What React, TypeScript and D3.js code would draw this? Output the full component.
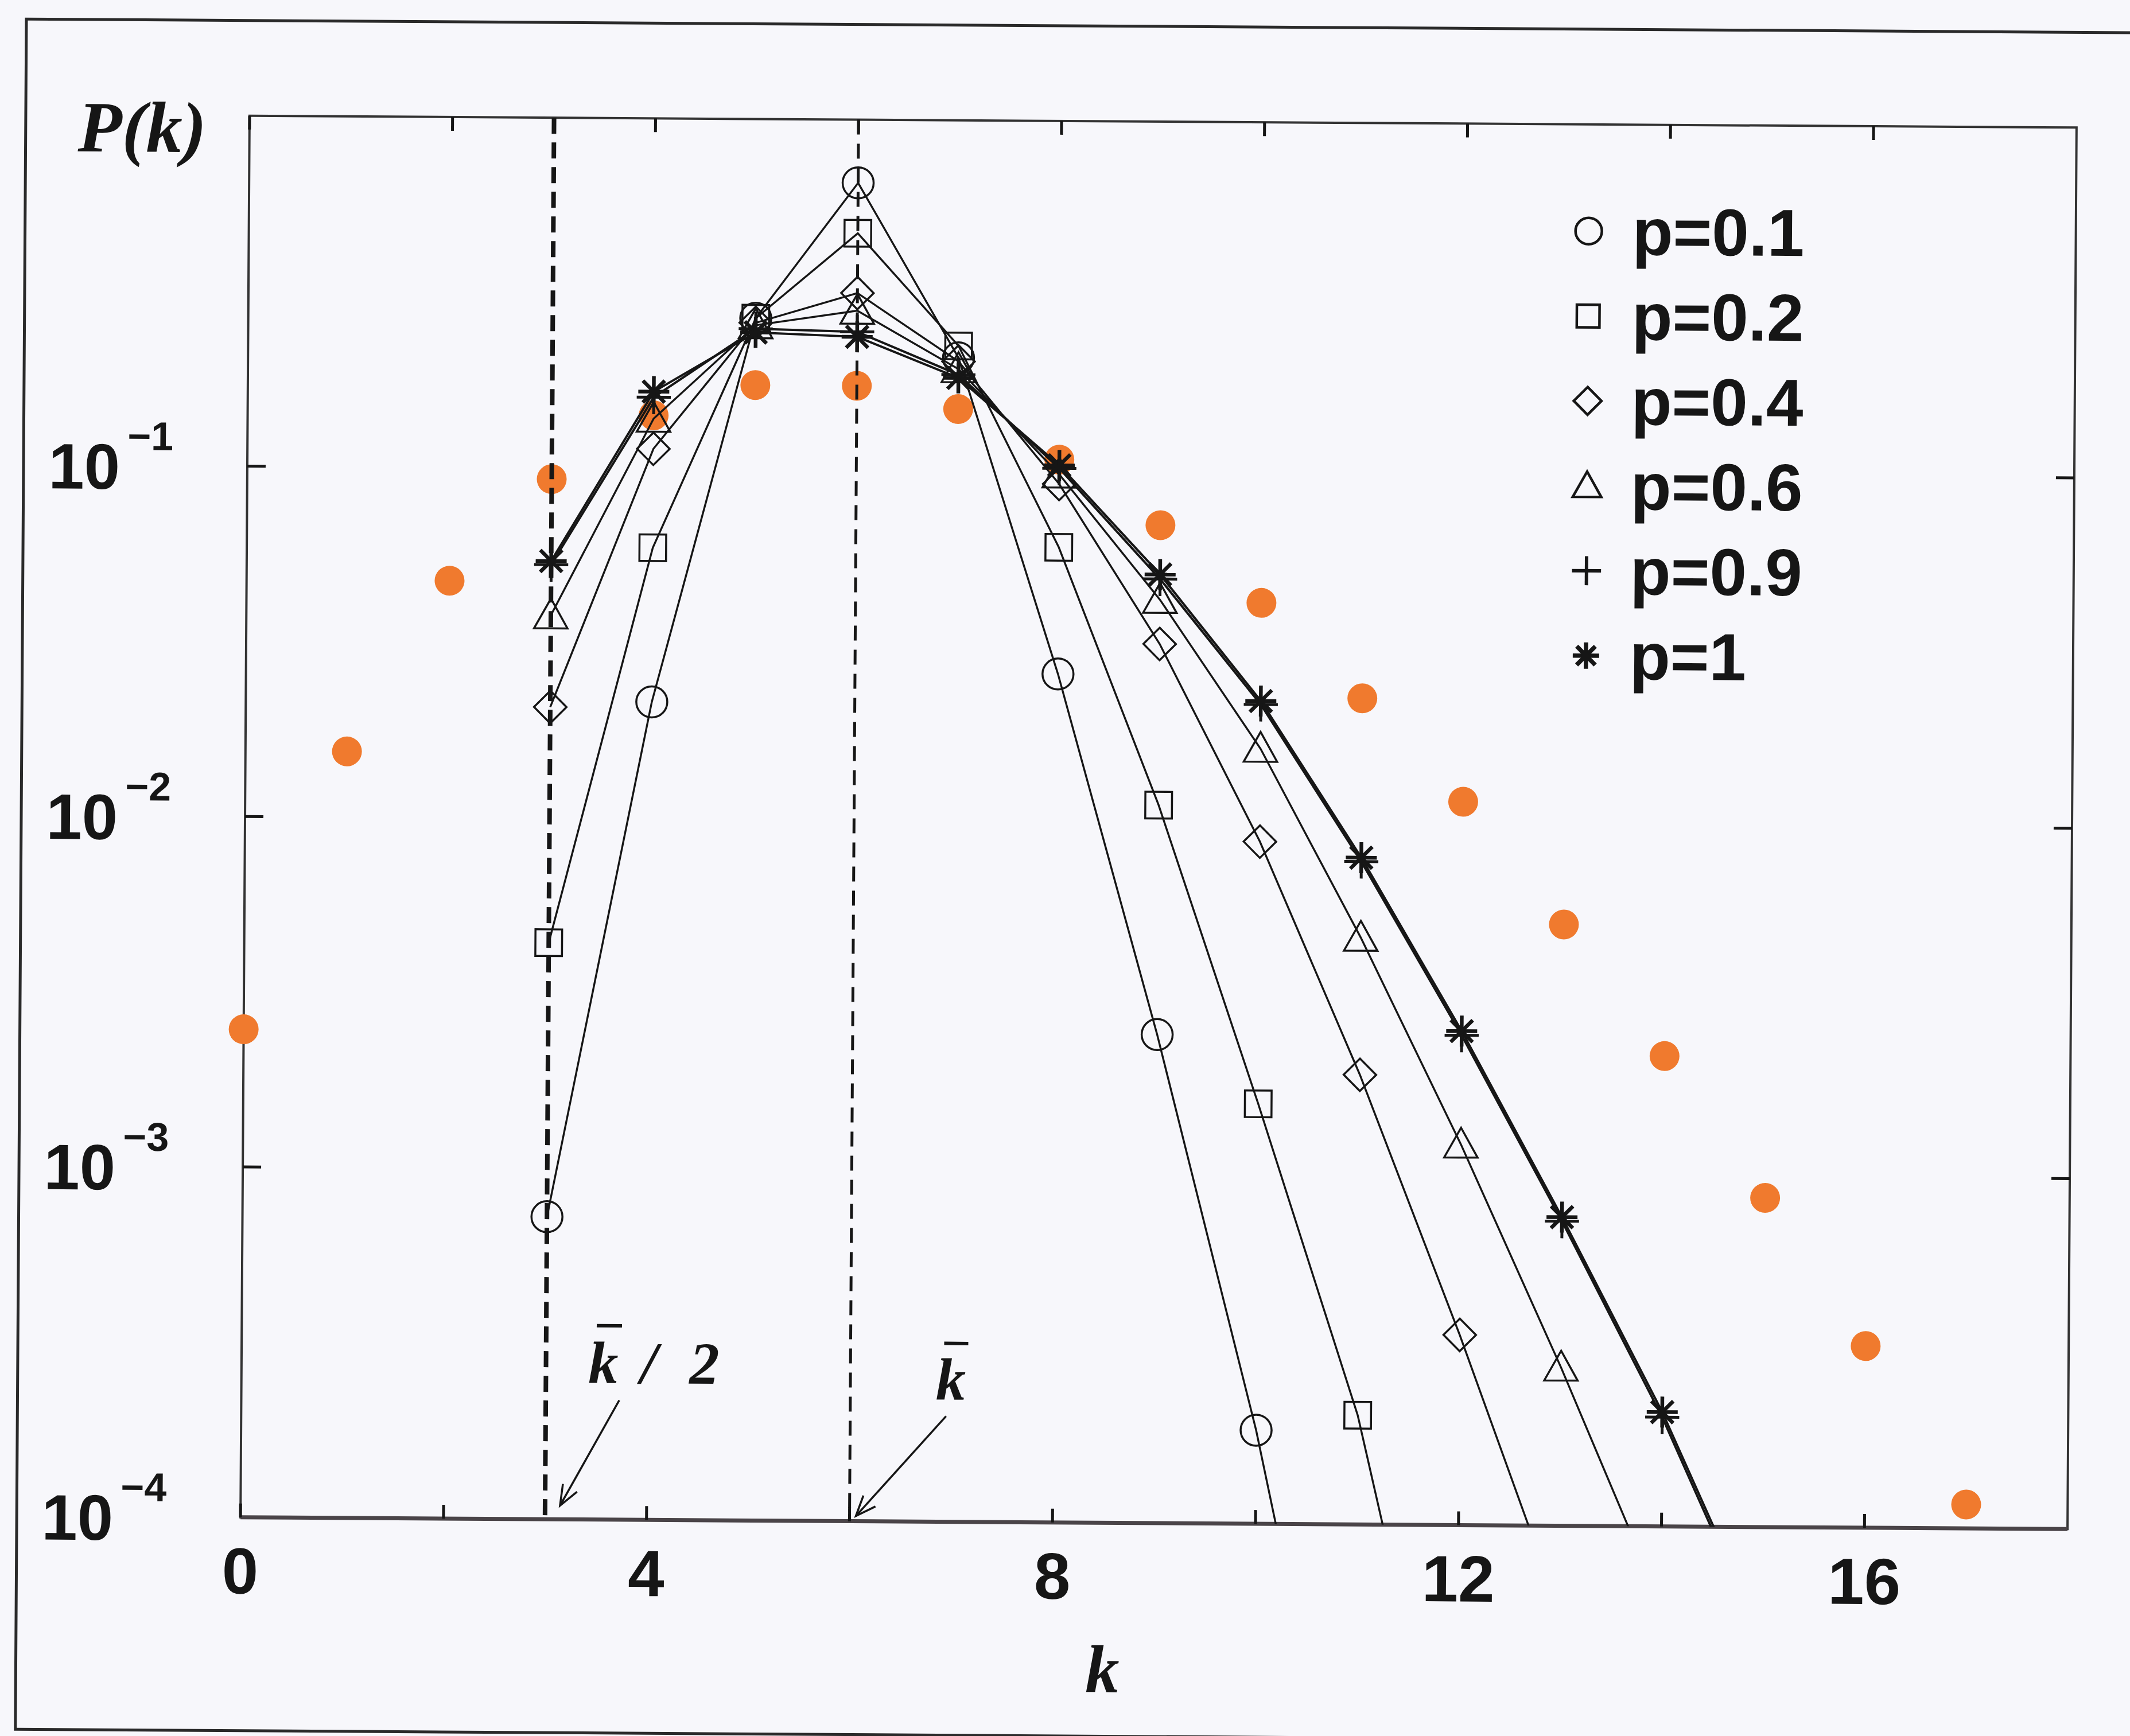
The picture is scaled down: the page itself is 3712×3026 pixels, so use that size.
import React from "react";
import * as d3 from "d3";

const W = 3712;
const H = 3026;

// orange reference points (random graph), k = 0..17
const kRandom = [0, 1, 2, 3, 4, 5, 6, 7, 8, 9, 10, 11, 12, 13, 14, 15, 16, 17];
const pRandom = [
  0.00247, 0.0154, 0.0475, 0.093, 0.142, 0.174, 0.174, 0.15, 0.108, 0.0705,
  0.0425, 0.0228, 0.0116, 0.0052, 0.0022, 0.00087, 0.00033, 0.000117,
];

// rewired lattice series, k starts at 3
const kSmall = [3, 4, 5, 6, 7, 8, 9, 10, 11, 12, 13, 14, 15];
const p01 = [7.3e-4, 0.0216, 0.27, 0.66, 0.21, 0.0264, 0.00248, 1.85e-4, 8.5e-6];
const p02 = [0.00442, 0.0595, 0.27, 0.474, 0.227, 0.0607, 0.0112, 0.00158, 2.05e-4, 1.2e-5];
const p04 = [0.0208, 0.114, 0.262, 0.32, 0.205, 0.092, 0.0323, 0.00885, 0.00192, 3.49e-4, 5.7e-5];
const p06 = [0.038, 0.139, 0.258, 0.285, 0.195, 0.098, 0.0432, 0.0163, 0.00473, 0.00122, 2.83e-4, 6.0e-5];
const p09 = [0.053, 0.16, 0.252, 0.248, 0.188, 0.102, 0.0495, 0.0218, 0.0078, 0.0025, 7.4e-4, 2.05e-4, 4.7e-5];
const p10 = [0.0543, 0.166, 0.246, 0.24, 0.184, 0.104, 0.051, 0.0223, 0.008, 0.00257, 7.6e-4, 2.12e-4, 4.9e-5];

const seriesNames = ["p=0.1", "p=0.2", "p=0.4", "p=0.6", "p=0.9", "p=1"];
const seriesMarkers = ["circle", "square", "diamond", "triangle", "plus", "asterisk"];
const seriesValues = [p01, p02, p04, p06, p09, p10];

const xTicks = [0, 2, 4, 6, 8, 10, 12, 14, 16];
const xTickLabels = [0, 4, 8, 12, 16];
const yTicks = [1e-1, 1e-2, 1e-3];
const yTickExponents = [-1, -2, -3, -4];
const guideK = [3, 6]; // k̄/2 and k̄

const ORANGE = "#f07a2e";
const INK = "#161616";
const SANS = "'Liberation Sans', Arial, sans-serif";
const SERIF = "'Liberation Serif', 'Times New Roman', serif";

// plot frame
const left = 427, right = 3611, top = 212, bottom = 2655;
const xScale = d3.scaleLinear().domain([0, 18]).range([left, right]);
const yScale = d3.scaleLog().domain([1e-4, 1]).range([bottom, top]);

function Marker({ type, x, y, r = 27, sw = 3.5 }: { type: string; x: number; y: number; r?: number; sw?: number }) {
  const common = { fill: "none", stroke: INK, strokeWidth: sw };
  if (type === "circle") return <circle cx={x} cy={y} r={r} {...common} />;
  if (type === "square") {
    const h = r * 0.86;
    return <rect x={x - h} y={y - h} width={2 * h} height={2 * h} {...common} />;
  }
  if (type === "diamond") {
    const h = r * 1.05;
    return <path d={`M${x},${y - h}L${x + h},${y}L${x},${y + h}L${x - h},${y}Z`} {...common} />;
  }
  if (type === "triangle") {
    const h = r * 1.08;
    return <path d={`M${x},${y - h}L${x + h},${y + h * 0.78}L${x - h},${y + h * 0.78}Z`} {...common} />;
  }
  if (type === "plus") {
    const h = r * 1.1;
    return (
      <g stroke={INK} strokeWidth={sw + 1.5}>
        <line x1={x - h} y1={y} x2={x + h} y2={y} />
        <line x1={x} y1={y - h} x2={x} y2={y + h} />
      </g>
    );
  }
  // asterisk
  const h = r;
  return (
    <g stroke={INK} strokeWidth={sw + 3}>
      {[0, 45, 90, 135].map((a) => {
        const dx = h * Math.cos((a * Math.PI) / 180);
        const dy = h * Math.sin((a * Math.PI) / 180);
        return <line key={a} x1={x - dx} y1={y - dy} x2={x + dx} y2={y + dy} />;
      })}
    </g>
  );
}

function Arrow({ x1, y1, x2, y2 }: { x1: number; y1: number; x2: number; y2: number }) {
  const a = Math.atan2(y2 - y1, x2 - x1);
  const len = 38, spread = 0.38;
  const h1 = [x2 - len * Math.cos(a - spread), y2 - len * Math.sin(a - spread)];
  const h2 = [x2 - len * Math.cos(a + spread), y2 - len * Math.sin(a + spread)];
  return (
    <g stroke={INK} strokeWidth={3.5} fill="none">
      <line x1={x1} y1={y1} x2={x2} y2={y2} />
      <path d={`M${h1[0]},${h1[1]}L${x2},${y2}L${h2[0]},${h2[1]}`} />
    </g>
  );
}

export default function App() {
  const line = d3
    .line<number>()
    .x((_, i) => xScale(kSmall[i]))
    .y((d) => yScale(d));

  const x3 = xScale(guideK[0]);
  const x6 = xScale(guideK[1]);

  return (
    <svg
      width={W}
      height={H}
      viewBox={`0 0 ${W} ${H}`}
      style={{ position: "absolute", left: 0, top: 0, display: "block" }}
    >
      <rect x={0} y={0} width={W} height={H} fill="#f7f7fb" />
      <defs>
        <clipPath id="plot-clip">
          <rect x={left} y={top} width={right - left} height={bottom - top} />
        </clipPath>
      </defs>

      {/* the scanned figure sits slightly rotated */}
      <g transform={`rotate(0.37, ${(left + right) / 2}, ${(top + bottom) / 2})`}>
        {/* outer frame */}
        <rect x={37} y={46} width={3760} height={2981} fill="none" stroke="#2a2a2a" strokeWidth={5} />

        {/* plot box */}
        <rect x={left} y={top} width={right - left} height={bottom - top} fill="none" stroke="#333" strokeWidth={4} />
        <line x1={left} y1={bottom} x2={right} y2={bottom} stroke="#4a4448" strokeWidth={7} />

        {/* ticks */}
        {xTicks.map((t) => (
          <g key={`xt${t}`} stroke={INK} strokeWidth={5}>
            <line x1={xScale(t)} y1={bottom} x2={xScale(t)} y2={bottom - 24} />
            <line x1={xScale(t)} y1={top} x2={xScale(t)} y2={top + 24} />
          </g>
        ))}
        {yTicks.map((t) => (
          <g key={`yt${t}`} stroke={INK} strokeWidth={5}>
            <line x1={left} y1={yScale(t)} x2={left + 32} y2={yScale(t)} />
            <line x1={right} y1={yScale(t)} x2={right - 32} y2={yScale(t)} />
          </g>
        ))}

        {/* tick labels */}
        {xTickLabels.map((t) => (
          <text
            key={`xl${t}`}
            x={xScale(t)}
            y={bottom + 133}
            textAnchor="middle"
            fontFamily={SANS}
            fontWeight="bold"
            fontSize={114}
            fill={INK}
          >
            {t}
          </text>
        ))}
        {yTickExponents.map((e) => {
          const y = yScale(Math.pow(10, e));
          return (
            <g key={`yl${e}`} fontFamily={SANS} fontWeight="bold" fill={INK}>
              <text x={205} y={y + 41} textAnchor="end" fontSize={112}>
                10
              </text>
              <text x={218} y={y - 27} fontSize={70}>
                {"\u2212" + Math.abs(e)}
              </text>
            </g>
          );
        })}

        {/* axis titles */}
        <text x={128} y={276} fontFamily={SERIF} fontStyle="italic" fontWeight="bold" fontSize={126} fill={INK}>
          P(k)
        </text>
        <text
          x={xScale(8.5)}
          y={2950}
          textAnchor="middle"
          fontFamily={SERIF}
          fontStyle="italic"
          fontWeight="bold"
          fontSize={118}
          fill={INK}
        >
          k
        </text>

        {/* random-graph reference points */}
        {kRandom.map((k, i) => (
          <circle key={`o${k}`} cx={xScale(k)} cy={yScale(pRandom[i])} r={26} fill={ORANGE} />
        ))}

        {/* k̄/2 and k̄ guides */}
        <line x1={x3} y1={top} x2={x3} y2={bottom} stroke={INK} strokeWidth={8} strokeDasharray="28 15" />
        <line x1={x6} y1={top} x2={x6} y2={bottom} stroke={INK} strokeWidth={5} strokeDasharray="26 16" />

        {/* series lines */}
        <g clipPath="url(#plot-clip)">
          {seriesValues.map((vals, si) => (
            <path
              key={`l${si}`}
              d={line(vals) || ""}
              fill="none"
              stroke={INK}
              strokeWidth={si >= 4 ? 4 : 3.4}
            />
          ))}
        </g>

        {/* series markers */}
        {seriesValues.map((vals, si) =>
          vals.map((v, i) =>
            v >= 1e-4 ? (
              <Marker key={`m${si}-${i}`} type={seriesMarkers[si]} x={xScale(kSmall[i])} y={yScale(v)} />
            ) : null
          )
        )}

        {/* legend */}
        {seriesNames.map((name, i) => {
          const y = 398 + i * 148;
          return (
            <g key={`lg${i}`}>
              <Marker type={seriesMarkers[i]} x={2762} y={y} r={23} sw={4.5} />
              <text x={2838} y={y + 41} fontFamily={SANS} fontWeight="bold" fontSize={116} fill={INK}>
                {name}
              </text>
            </g>
          );
        })}

        {/* annotations */}
        <g fontFamily={SERIF} fontStyle="italic" fontWeight="bold" fontSize={104} fill={INK}>
          <text x={x3 + 74} y={bottom - 238}>k</text>
          <text x={x3 + 165} y={bottom - 238}>/</text>
          <text x={x3 + 250} y={bottom - 238}>2</text>
          <text x={x6 + 149} y={bottom - 213}>k</text>
        </g>
        <line x1={x3 + 88} y1={bottom - 338} x2={x3 + 132} y2={bottom - 338} stroke={INK} strokeWidth={6} />
        <line x1={x6 + 163} y1={bottom - 311} x2={x6 + 205} y2={bottom - 311} stroke={INK} strokeWidth={6} />
        <Arrow x1={x3 + 128} y1={bottom - 208} x2={x3 + 26} y2={bottom - 24} />
        <Arrow x1={x6 + 167} y1={bottom - 184} x2={x6 + 11} y2={bottom - 9} />
      </g>
    </svg>
  );
}
